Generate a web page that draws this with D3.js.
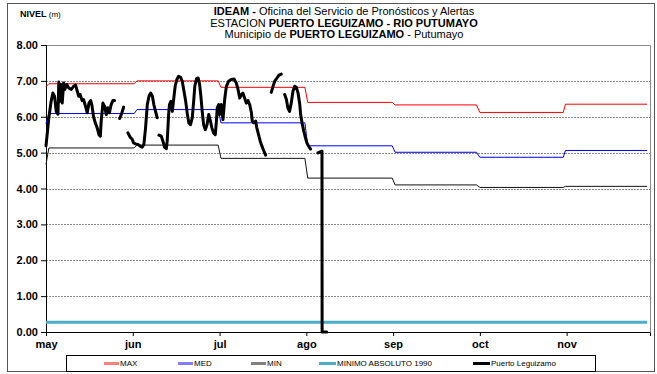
<!DOCTYPE html>
<html><head><meta charset="utf-8">
<script src="https://cdn.jsdelivr.net/npm/d3@7"></script>
<style>body{margin:0;background:#fff}svg{display:block}</style>
</head><body><svg id="c" width="657" height="374"></svg>
<script>
// ---- data ----
const months = ["may","jun","jul","ago","sep","oct","nov"];
const monthTicks = [0, 30.5, 61, 91.5, 122, 152.5, 183];
const yTicks = [0,1,2,3,4,5,6,7,8];
const xEnd = 212.3;
const maxSeries = [[0,6.84],[1,6.92],[31,6.92],[32,7.00],[60.5,7.00],[61.5,6.82],[91,6.82],[92,6.40],[121.7,6.40],[122.7,6.33],[151.3,6.33],[152.5,6.12],[181.8,6.12],[182.6,6.35],[211.3,6.35]];
const medSeries = [[0,5.81],[1,6.09],[31,6.09],[32,6.20],[60.5,6.20],[61.5,5.83],[91,5.83],[92,5.19],[121.7,5.19],[122.7,5.01],[151.3,5.01],[152.5,4.87],[181.8,4.87],[182.6,5.06],[211.3,5.06]];
const minSeries = [[0,4.67],[1,5.13],[31,5.13],[32,5.21],[60.5,5.21],[61.5,4.84],[91,4.84],[92,4.29],[121.7,4.29],[122.7,4.10],[151.3,4.10],[152.5,4.03],[181.8,4.03],[182.6,4.06],[211.3,4.06]];
const minAbs = [[0,0.27],[211.3,0.27]];
const obs = [
 [0,5.19],[1,5.97],[1.8,6.43],[2.4,6.66],[3,6.57],[3.6,6.15],[4.2,6.07],[4.5,6.97],[4.9,6.43],[5.3,6.90],[5.7,6.38],[6.2,6.94],[6.6,6.76],[7.3,6.90],[8,6.80],[8.9,6.76],[9.7,6.85],[10.4,6.88],[11,6.71],[11.5,6.57],[12,6.62],[12.7,6.45],[13.2,6.48],[13.9,6.29],[14.5,6.11],[15.1,6.38],[15.7,6.45],[16.1,6.34],[16.7,6.01],[17.3,5.83],[18,5.69],[18.6,5.50],[19.1,5.46],[19.4,5.88],[20,6.38],[20.6,6.29],[21.2,6.06],[21.7,6.25],[22.3,6.11],[22.9,6.34],[23.5,6.45],[24.1,6.45],
 [24.8,null],
 [25.9,5.95],[26.6,6.09],[27.3,6.27],
 [28,null],
 [28.8,5.55],[29.6,5.43],[30.3,5.37],[30.8,5.27],[31.5,5.24],[32.3,5.23],[33.1,5.18],[33.8,5.15],[34.4,5.23],[35,5.69],[35.6,6.34],[36.2,6.57],[36.8,6.66],[37.4,6.57],[37.9,6.34],[38.5,6.15],[39.1,5.97],
 [39.4,null],
 [39.7,5.49],[40.5,5.46],[41.1,5.32],[41.7,5.15],[42.3,5.11],[42.6,5.32],[43.1,6.06],[43.4,6.34],[43.9,6.43],[44.4,6.15],[44.8,6.43],[45.4,6.85],[46,7.04],[46.6,7.13],[47.3,7.10],[47.9,6.99],[48.5,6.71],[49.1,6.43],[49.7,6.06],[50.2,5.83],[50.8,5.78],[51.4,5.97],[51.9,6.43],[52.3,6.85],[52.9,7.06],[53.5,7.08],[54,6.90],[54.5,6.52],[54.9,6.15],[55.4,5.78],[56,5.64],[56.6,5.78],[57.2,6.06],[57.8,5.88],[58.3,5.69],[58.9,5.55],[59.5,5.50],[59.9,5.88],[60.2,6.25],[60.7,6.34],[61,6.06],[61.6,6.34],[62.2,5.92],[62.8,6.48],[63.4,6.85],[64.2,6.99],[65.1,7.04],[66.1,7.05],[66.9,6.94],[67.5,6.76],[68.1,6.52],[68.7,6.62],[69.2,6.66],[69.8,6.52],[70.4,6.38],[71,6.45],[71.6,6.34],[72.2,6.11],[72.5,5.88],[73,5.83],[73.7,5.88],[74.1,5.69],[74.7,5.50],[75.3,5.32],[75.9,5.18],[76.5,5.06],[77.2,4.93],
 [78,null],
 [79.2,6.68],[79.8,6.85],[80.4,6.99],[81.2,7.08],[81.9,7.16],[82.7,7.19],
 [83.3,null],
 [83.9,6.62],[84.5,6.48],[85,6.25],[85.6,6.15],[86.2,6.38],[86.8,6.71],[87.4,6.85],[88,6.82],[88.6,6.66],[89.2,6.34],[89.5,6.06],[90,5.83],[90.6,5.60],[91.2,5.41],[91.7,5.27],[92.3,5.18],[93,5.10],
 [94,null],
 [95.6,4.99],[97,5.04],[97.05,0],[98.7,0]
];
const legendLabels = ["MAX","MED","MIN","MINIMO ABSOLUTO 1990","Puerto Leguizamo"];

// ---- chart ----
const svg = d3.select("#c");
svg.append("rect").attr("width",657).attr("height",374).attr("fill","#fff");
svg.append("rect").attr("x",7.5).attr("y",3.5).attr("width",647).attr("height",368)
  .attr("fill","none").attr("stroke","#555");

const x = d3.scaleLinear().domain([0,xEnd]).range([46,650]);
const y = d3.scaleLinear().domain([0,8]).range([332,45]);

// gridlines
svg.append("g").selectAll("line").data(yTicks.filter(d=>d>0 && d<8)).join("line")
  .attr("x1",x(0)).attr("x2",x(xEnd)).attr("y1",d=>Math.round(y(d))+0.5).attr("y2",d=>Math.round(y(d))+0.5)
  .attr("stroke","#8a8a8a").attr("stroke-dasharray","2,1").attr("stroke-width",1);
// plot border top/right
svg.append("path").attr("d",`M${x(0)},${Math.round(y(8))+0.5}H${x(xEnd)+0.5}V${y(0)}`)
  .attr("fill","none").attr("stroke","#8a8a8a");

const fontBold = "bold 11px 'Liberation Sans', Arial, sans-serif";
const yAxis = svg.append("g").attr("transform",`translate(${x(0)},0)`)
  .call(d3.axisLeft(y).tickValues(yTicks).tickFormat(d3.format(".2f")).tickSize(5).tickPadding(3));
const xAxis = svg.append("g").attr("transform",`translate(0,${y(0)})`)
  .call(d3.axisBottom(x).tickValues(monthTicks).tickFormat((d,i)=>months[i]).tickSize(4).tickPadding(4));
[yAxis,xAxis].forEach(a=>{a.selectAll("text").style("font",fontBold).attr("fill","#000");
  a.selectAll("line,path").attr("stroke","#000");});

const line = d3.line().defined(d=>d[1]!==null).x(d=>x(d[0])).y(d=>y(d[1]));
svg.append("path").datum(minAbs).attr("d",line).attr("fill","none").attr("stroke","#4bacc6").attr("stroke-width",3);
svg.append("path").datum(maxSeries).attr("d",line).attr("fill","none").attr("stroke","#ff0000").attr("stroke-width",1);
svg.append("path").datum(medSeries).attr("d",line).attr("fill","none").attr("stroke","#0000ff").attr("stroke-width",1);
svg.append("path").datum(minSeries).attr("d",line).attr("fill","none").attr("stroke","#111").attr("stroke-width",1);
svg.append("path").datum(obs).attr("d",line).attr("fill","none").attr("stroke","#000").attr("stroke-width",3)
  .attr("stroke-linejoin","round").attr("stroke-linecap","round");

// titles
const tfont = "'Liberation Sans Narrow','Arial Narrow','Liberation Sans',Arial,sans-serif";
function rich(yPos, parts){
  const t = svg.append("text").attr("x",344).attr("y",yPos).attr("text-anchor","middle")
    .style("font-family",tfont).style("font-size","11px");
  parts.forEach(p=>t.append("tspan").text(p[0]).style("font-weight",p[1]?"bold":"normal"));
}
rich(15,[["IDEAM - ",1],["Oficina del Servicio de Pronósticos y Alertas",0]]);
rich(27,[["ESTACION ",0],["PUERTO LEGUIZAMO -  RIO PUTUMAYO",1]]);
rich(38,[["Municipio de ",0],["PUERTO LEGUIZAMO",1],[" - Putumayo",0]]);
const nv = svg.append("text").attr("x",20).attr("y",17).style("font-family","'Liberation Sans',Arial,sans-serif");
nv.append("tspan").text("NIVEL").style("font-weight","bold").style("font-size","9px");
nv.append("tspan").text(" (m)").style("font-size","8px");

// legend
svg.append("rect").attr("x",66.5).attr("y",355.5).attr("width",529).attr("height",16)
  .attr("fill","#fff").attr("stroke","#000");
const legColors = ["#ff8080","#8080ff","#808080","#4bacc6","#000"];
const legX = [104,178,251,319,473];
const legW = [15,15,15,17,17];
const lg = svg.append("g").selectAll("g").data(legendLabels).join("g")
  .attr("transform",(d,i)=>`translate(${legX[i]},363.5)`);
lg.append("line").attr("x1",0).attr("x2",(d,i)=>legW[i]).attr("stroke",(d,i)=>legColors[i]).attr("stroke-width",3);
lg.append("text").attr("x",(d,i)=>legW[i]+1).attr("dy","0.35em").text(d=>d)
  .style("font-family","'Liberation Sans',Arial,sans-serif").style("font-size","8px");
</script></body></html>
